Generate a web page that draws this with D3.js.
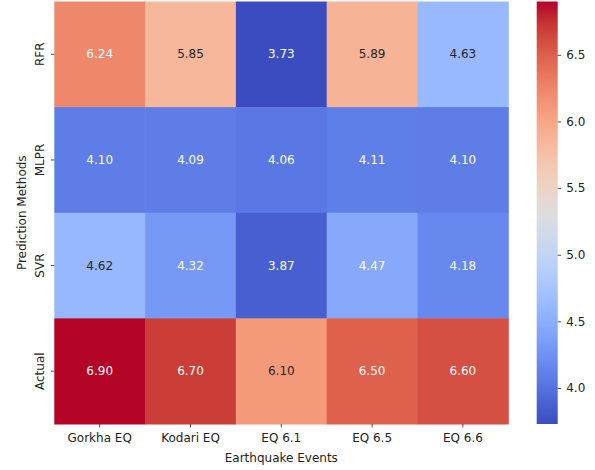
<!DOCTYPE html>
<html>
<head>
<meta charset="utf-8">
<script src="https://cdn.jsdelivr.net/npm/d3@7"></script>
<style>
  html, body { margin: 0; padding: 0; background: #fff; }
  svg { display: block; font-family: "DejaVu Sans", sans-serif; }
</style>
</head>
<body>
<svg id="chart" width="595" height="470"></svg>
<script>
// Earthquake magnitude predictions by method
const events = ["Gorkha EQ", "Kodari EQ", "EQ 6.1", "EQ 6.5", "EQ 6.6"];
const methods = ["RFR", "MLPR", "SVR", "Actual"];
const rfr    = [6.24, 5.85, 3.73, 5.89, 4.63];
const mlpr   = [4.10, 4.09, 4.06, 4.11, 4.10];
const svr    = [4.62, 4.32, 3.87, 4.47, 4.18];
const actual = [6.90, 6.70, 6.10, 6.50, 6.60];
const colorbarTicks = [4.0, 4.5, 5.0, 5.5, 6.0, 6.5];

const rows = [rfr, mlpr, svr, actual];

// coolwarm diverging colormap control points (r, g, b at 33 evenly spaced positions)
const coolwarmR = [0.2298057,0.26623388,0.30386891,0.342804478,0.38301334,0.424369608,0.46666708,0.509635204,0.552953156,0.596262162,0.639176211,0.681291281,0.722193294,0.761464949,0.798691636,0.833466556,0.865395197,0.897787179,0.924127593,0.944468518,0.958852946,0.96732803,0.969954137,0.966811177,0.958003065,0.943660866,0.923944917,0.89904617,0.869186849,0.834620542,0.795631745,0.752534934,0.705673158];
const coolwarmG = [0.298717966,0.353094838,0.406535296,0.458757618,0.50941904,0.558148092,0.604562568,0.648280772,0.688929332,0.726149107,0.759599947,0.788964712,0.813952739,0.834302879,0.849786142,0.860207984,0.86541021,0.848937047,0.827384882,0.800927443,0.769767752,0.734132809,0.694266682,0.650421156,0.602842431,0.551750968,0.49730856,0.439559467,0.378313092,0.312874446,0.24128379,0.157246067,0.01555616];
const coolwarmB = [0.753683153,0.801466763,0.84495867,0.883725899,0.917387822,0.945619588,0.968154911,0.98478814,0.995375608,0.999836203,0.998151185,0.990363227,0.976574709,0.956945269,0.931688648,0.901068838,0.865395561,0.820880546,0.774508472,0.726736146,0.678007945,0.628751763,0.579375448,0.530263762,0.481775914,0.434243684,0.387970225,0.343229596,0.300267182,0.259301199,0.220525627,0.184115123,0.150232812];

function coolwarmRGB(t) {
  // 256-entry lookup, as a discretised colormap
  const idx = Math.max(0, Math.min(255, Math.floor(t * 256)));
  const u = idx / 255 * 32;
  const i = Math.min(31, Math.floor(u));
  const f = u - i;
  const lerp = arr => arr[i] + (arr[i + 1] - arr[i]) * f;
  return [lerp(coolwarmR), lerp(coolwarmG), lerp(coolwarmB)];
}
function toCss(c) {
  return d3.rgb(c[0] * 255, c[1] * 255, c[2] * 255).formatHex();
}
function luminance(c) {
  const lin = v => v <= 0.03928 ? v / 12.92 : Math.pow((v + 0.055) / 1.055, 2.4);
  return 0.2126 * lin(c[0]) + 0.7152 * lin(c[1]) + 0.0722 * lin(c[2]);
}

const allVals = rows.flat();
const vmin = d3.min(allVals), vmax = d3.max(allVals);
const norm = d3.scaleLinear().domain([vmin, vmax]).range([0, 1]).clamp(true);

const svg = d3.select("#chart");
const plotLeft = 54.3, plotRight = 508.3, plotTop = 1.5, plotBottom = 424;

const x = d3.scaleBand().domain(events).range([plotLeft, plotRight]).paddingInner(0).paddingOuter(0);
const y = d3.scaleBand().domain(methods).range([plotTop, plotBottom]).paddingInner(0).paddingOuter(0);

const cells = [];
methods.forEach((m, r) => events.forEach((e, c) => cells.push({ m, e, v: rows[r][c] })));

const g = svg.append("g");
g.selectAll("rect.cell").data(cells).join("rect")
  .attr("class", "cell")
  .attr("x", d => x(d.e))
  .attr("y", d => y(d.m))
  .attr("width", x.bandwidth() + 0.5)
  .attr("height", y.bandwidth() + 0.5)
  .attr("fill", d => toCss(coolwarmRGB(norm(d.v))));

g.selectAll("text.annot").data(cells).join("text")
  .attr("class", "annot")
  .attr("x", d => x(d.e) + x.bandwidth() / 2)
  .attr("y", d => y(d.m) + y.bandwidth() / 2)
  .attr("text-anchor", "middle")
  .attr("dominant-baseline", "central")
  .attr("font-size", 12)
  .attr("fill", d => luminance(coolwarmRGB(norm(d.v))) > 0.408 ? "#262626" : "#ffffff")
  .text(d => d.v.toFixed(2));

// axes
const xAxis = svg.append("g")
  .attr("transform", `translate(0,${plotBottom})`)
  .call(d3.axisBottom(x).tickSize(3.5).tickPadding(5.5));
xAxis.select(".domain").remove();
xAxis.selectAll("text").attr("font-size", 12).attr("fill", "#222").attr("font-family", "DejaVu Sans");
xAxis.selectAll("line").attr("stroke", "#222").attr("stroke-width", 0.8);

const yAxis = svg.append("g")
  .attr("transform", `translate(${plotLeft},0)`)
  .call(d3.axisLeft(y).tickSize(3.5));
yAxis.select(".domain").remove();
yAxis.selectAll("line").attr("stroke", "#222").attr("stroke-width", 0.8);
yAxis.selectAll("text")
  .attr("font-size", 12).attr("fill", "#222").attr("font-family", "DejaVu Sans")
  .attr("x", null).attr("dy", null)
  .attr("text-anchor", "middle")
  .attr("transform", `translate(${44 - plotLeft},0) rotate(-90)`);

svg.append("text")
  .attr("x", (plotLeft + plotRight) / 2).attr("y", 461.5)
  .attr("text-anchor", "middle").attr("font-size", 12).attr("fill", "#222")
  .text("Earthquake Events");

svg.append("text")
  .attr("transform", `translate(25.5,${(plotTop + plotBottom) / 2}) rotate(-90)`)
  .attr("text-anchor", "middle").attr("font-size", 12).attr("fill", "#222")
  .text("Prediction Methods");

// colorbar
const cbX = 536.7, cbW = 21;
const defs = svg.append("defs");
const grad = defs.append("linearGradient").attr("id", "cbgrad")
  .attr("x1", 0).attr("y1", 1).attr("x2", 0).attr("y2", 0);
d3.range(0, 257, 4).forEach(k => {
  const t = Math.min(1, k / 256);
  grad.append("stop").attr("offset", t).attr("stop-color", toCss(coolwarmRGB(Math.min(t, 0.9999))));
});
svg.append("rect")
  .attr("x", cbX).attr("y", plotTop).attr("width", cbW).attr("height", plotBottom - plotTop)
  .attr("fill", "url(#cbgrad)");

const cbScale = d3.scaleLinear().domain([vmin, vmax]).range([plotBottom, plotTop]);
const cbAxis = svg.append("g")
  .attr("transform", `translate(${cbX + cbW},0)`)
  .call(d3.axisRight(cbScale).tickValues(colorbarTicks).tickFormat(d3.format(".1f")).tickSize(3.5).tickPadding(5));
cbAxis.select(".domain").remove();
cbAxis.selectAll("line").attr("stroke", "#222").attr("stroke-width", 0.8);
cbAxis.selectAll("text").attr("font-size", 12).attr("fill", "#222").attr("font-family", "DejaVu Sans");
</script>
</body>
</html>
